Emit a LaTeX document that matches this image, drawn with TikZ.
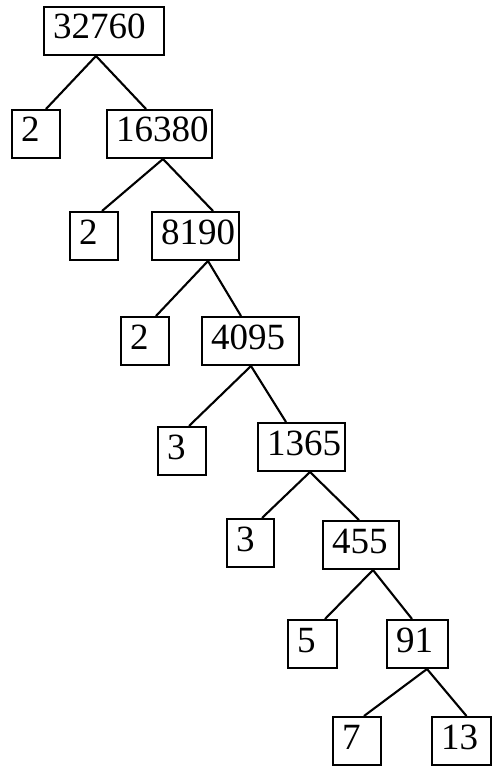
\documentclass[tikz,border=0pt]{standalone}
\usepackage{fontspec}
\setmainfont{Liberation Serif}
\usepackage{tikz}
\usetikzlibrary{positioning}

\begin{document}
\begin{tikzpicture}[x=1pt, y=-1pt, font=\fontsize{37}{40}\selectfont]
\tikzstyle{box}=[draw, line width=2pt, anchor=north west, inner xsep=9pt, inner ysep=0pt, text height=32pt, text depth=16pt, align=left, text width=30pt]
\tikzstyle{edge}=[line width=2.1pt]
\useasboundingbox (0,0) rectangle (491,767);
% factor tree of 32760
\node[box, text width=102pt] (n32760) at (43,6) {32760};
\node[box] (a2) at (11,109) {2};
\node[box, text width=87pt] (n16380) at (106,109) {16380};
\node[box] (b2) at (69,211) {2};
\node[box, text width=69pt] (n8190) at (151,211) {8190};
\node[box] (c2) at (120,316) {2};
\node[box, text width=79pt] (n4095) at (201,316) {4095};
\node[box] (d3) at (157,426) {3};
\node[box, text width=69pt] (n1365) at (257,422) {1365};
\node[box, text width=29pt] (e3) at (226,518) {3};
\node[box, text width=58pt] (n455) at (322,520) {455};
\node[box, text width=31pt] (f5) at (287,619) {5};
\node[box, text width=43pt] (n91) at (386,619) {91};
\node[box] (g7) at (332,716) {7};
\node[box, text width=41pt] (g13) at (431,716) {13};
% branches
\draw[edge] ([xshift=-8pt]n32760.south) -- ([xshift=10pt]a2.north);
\draw[edge] ([xshift=-8pt]n32760.south) -- ([xshift=-13.5pt]n16380.north);
\draw[edge] ([xshift=3.5pt]n16380.south) -- ([xshift=8pt]b2.north);
\draw[edge] ([xshift=3.5pt]n16380.south) -- ([xshift=17.5pt]n8190.north);
\draw[edge] ([xshift=12.5pt]n8190.south) -- ([xshift=11pt]c2.north);
\draw[edge] ([xshift=12.5pt]n8190.south) -- ([xshift=-9.5pt]n4095.north);
\draw[edge] ([xshift=0.5pt]n4095.south) -- ([xshift=7pt]d3.north);
\draw[edge] ([xshift=0.5pt]n4095.south) -- ([xshift=-15.5pt]n1365.north);
\draw[edge] ([xshift=8.5pt]n1365.south) -- ([xshift=11.5pt]e3.north);
\draw[edge] ([xshift=8.5pt]n1365.south) -- ([xshift=-2pt]n455.north);
\draw[edge] ([xshift=12pt]n455.south) -- ([xshift=12.5pt]f5.north);
\draw[edge] ([xshift=12pt]n455.south) -- ([xshift=-5.5pt]n91.north);
\draw[edge] ([xshift=9.5pt]n91.south) -- ([xshift=7pt]g7.north);
\draw[edge] ([xshift=9.5pt]n91.south) -- ([xshift=5pt]g13.north);
\end{tikzpicture}
\end{document}
